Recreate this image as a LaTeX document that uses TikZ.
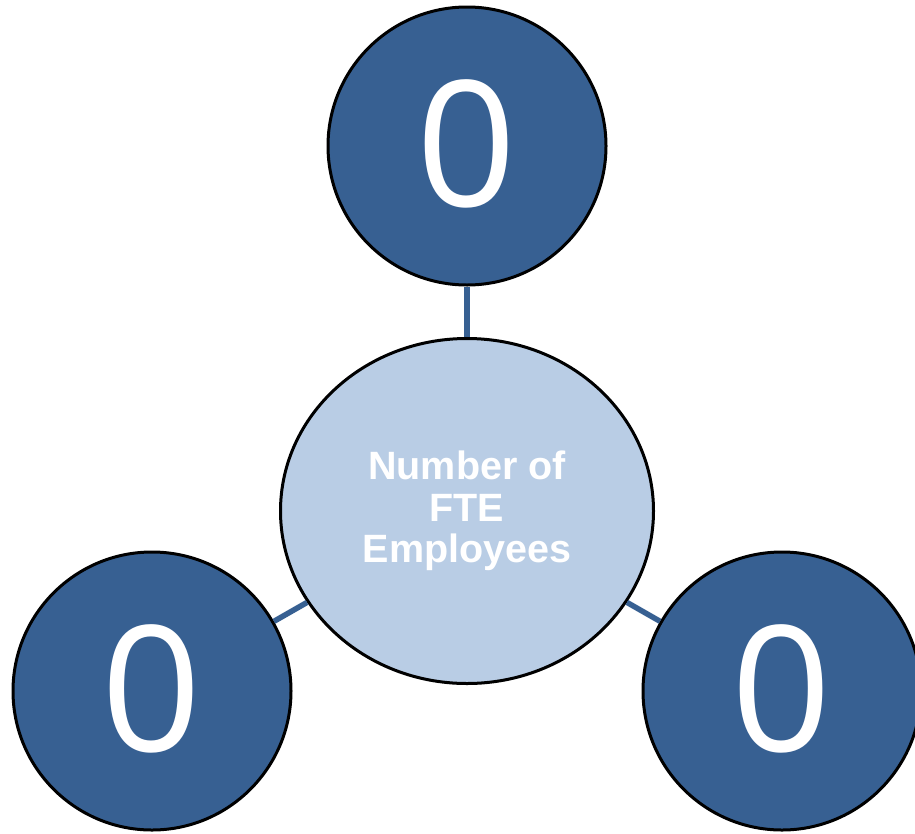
\documentclass[tikz,border=0pt]{standalone}
\usepackage{fontspec}
\setmainfont{Liberation Sans}
\newfontfamily\digitfont{Open Sans}
\usetikzlibrary{shapes.geometric}
\definecolor{darkblue}{HTML}{376092}
\definecolor{lightblue}{HTML}{B9CDE5}
\newcommand{\valtext}[1]{\raisebox{6pt}{#1}}
\begin{document}
\begin{tikzpicture}[x=1pt,y=-1pt,
  valuecircle/.style={circle, draw=black, line width=3pt, fill=darkblue,
    minimum size=278pt, inner sep=0pt, text=white,
    font=\digitfont\fontsize{175}{175}\selectfont},
  hub/.style={ellipse, draw=black, line width=3pt, fill=lightblue,
    minimum width=373pt, minimum height=345pt, inner sep=0pt, text=white,
    align=center, font=\bfseries\fontsize{39.5}{41.5}\selectfont},
  link/.style={draw=darkblue, line width=5.5pt}]
\useasboundingbox (0,0) rectangle (915,833);
% outer value circles and central hub
\node[valuecircle] (top) at (467,146) {\valtext{0}};
\node[valuecircle] (left) at (152,691) {\valtext{0}};
\node[valuecircle] (right) at (782,691) {\valtext{0}};
\node[hub] (hub) at (467,511) {Number of\\FTE\\Employees};
% connectors between the hub and each circle
\draw[link] (hub) -- (top);
\draw[link] (hub) -- (left);
\draw[link] (hub) -- (right);
\end{tikzpicture}
\end{document}
